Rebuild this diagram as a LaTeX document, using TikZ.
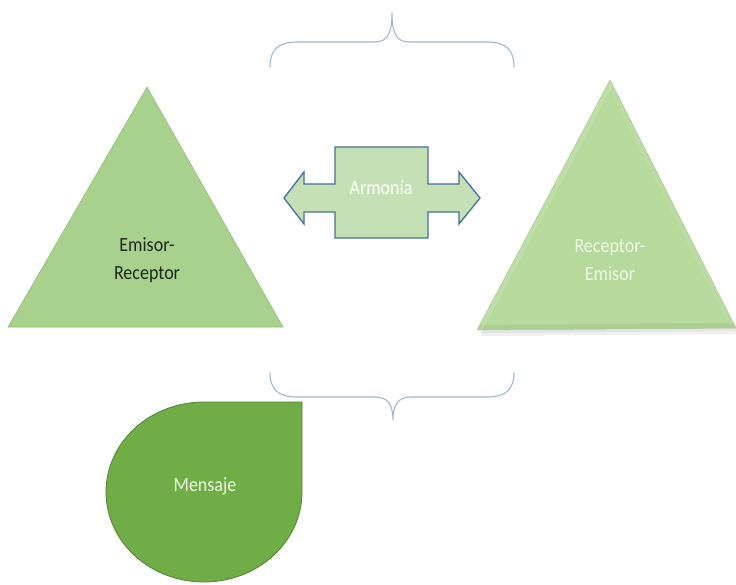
\documentclass[tikz,border=0pt]{standalone}
\usepackage{fontspec}
\setmainfont{Carlito}
\definecolor{triA}{RGB}{169,209,142}
\definecolor{triAline}{RGB}{150,192,122}
\definecolor{triB}{RGB}{181,218,155}
\definecolor{triBline}{RGB}{165,204,140}
\definecolor{arrFill}{RGB}{197,224,180}
\definecolor{arrLine}{RGB}{65,113,156}
\definecolor{dropFill}{RGB}{112,173,71}
\definecolor{dropLine}{RGB}{84,130,53}
\definecolor{braceCol}{RGB}{160,183,205}
\definecolor{darkTxt}{RGB}{30,40,25}
\definecolor{lightTxt}{RGB}{238,247,232}
\newcommand{\tallline}[1]{\scalebox{1}[1.12]{#1}}
\tikzset{
  lbl/.style={font=\fontsize{18}{28}\selectfont, align=center, inner sep=0pt},
  bracestyle/.style={draw=braceCol, line width=1.1pt, line cap=round},
}
\begin{document}
\begin{tikzpicture}[x=1pt,y=-1pt]
\useasboundingbox (0,0) rectangle (736,585);
% top brace
\draw[bracestyle] (270,67) .. controls (270,50) and (278,42) .. (297,42) -- (375,42)
  .. controls (388,42) and (392,32) .. (392,13)
  .. controls (392,32) and (396,42) .. (409,42) -- (487,42)
  .. controls (506,42) and (514,50) .. (514,67);
% bottom brace
\draw[bracestyle] (270,373) .. controls (270,389) and (278,397) .. (297,397) -- (375,397)
  .. controls (388,397) and (393,405) .. (393,420)
  .. controls (393,405) and (398,397) .. (411,397) -- (487,397)
  .. controls (506,397) and (514,389) .. (514,373);
% left triangle
\fill[triA] (147,87) -- (283,327) -- (8,327) -- cycle;
\draw[triAline, line width=0.6pt] (147,87) -- (283,327) -- (8,327) -- cycle;
\node[lbl, text=darkTxt] (er) at (147,260) {\tallline{Emisor-}\\\tallline{Receptor}};
% right triangle with soft shadow and bevel
\fill[black, opacity=0.06] (610,84) -- (738,334) -- (480,336) -- cycle;
\fill[black, opacity=0.05] (610,82) -- (737,331) -- (479,333) -- cycle;
\fill[triB] (610,80) -- (736,328) -- (477,330) -- cycle;
\begin{scope}
  \clip (610,80) -- (736,328) -- (477,330) -- cycle;
  \draw[white, opacity=0.12, line width=10pt] (610,80) -- (477,330);
  \draw[white, opacity=0.08, line width=10pt] (610,80) -- (736,328);
  \draw[black, opacity=0.05, line width=10pt] (477,330) -- (736,328);
\end{scope}
\draw[triBline, line width=0.5pt] (610,80) -- (736,328) -- (477,330) -- cycle;
\node[lbl, text=lightTxt] (re) at (610,260) {\tallline{Receptor-}\\\tallline{Emisor}};
% double arrow
\draw[fill=arrFill, draw=arrLine, line width=1.3pt, line join=miter]
  (284,198) -- (304,172) -- (304,184) -- (335,184) -- (335,147) -- (428,147)
  -- (428,184) -- (459,184) -- (459,172) -- (480,198) -- (459,224) -- (459,212)
  -- (428,212) -- (428,238) -- (335,238) -- (335,212) -- (304,212) -- (304,224) -- cycle;
\node[lbl, text=white, anchor=base] (arm) at (381,195) {\tallline{Armonía}};
% teardrop
\draw[fill=dropFill, draw=dropLine, line width=0.8pt]
  (204,402) -- (302,402) -- (302,492) arc[start angle=0, end angle=270, x radius=98, y radius=90] -- cycle;
\node[lbl, text=lightTxt, anchor=base] (msg) at (205,491) {\tallline{Mensaje}};
\end{tikzpicture}
\end{document}
